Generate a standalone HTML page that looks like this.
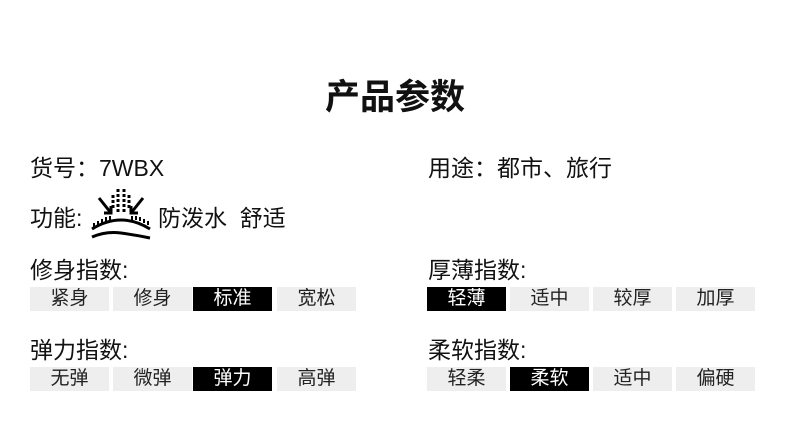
<!DOCTYPE html>
<html><head><meta charset="utf-8"><style>
body{margin:0;width:790px;height:440px;background:#fff;position:relative;overflow:hidden;font-family:"Liberation Sans","Noto Sans CJK SC",sans-serif;color:#111}
.t{position:absolute;white-space:nowrap}
.lbl{font-size:23px;line-height:26px}
.b{position:absolute;height:24px;width:79px;background:#eee;font-size:19px;line-height:24px;text-align:center;color:#222}
.b.k{background:#000;color:#fff}
</style></head><body>
<div class="t" style="left:0;width:790px;text-align:center;top:77px;font-size:35px;font-weight:bold;line-height:42px">产品参数</div>
<div class="t lbl" style="left:30px;top:155px">货号：7WBX</div>
<div class="t lbl" style="left:428px;top:155px">用途：都市、旅行</div>
<div class="t lbl" style="left:30px;top:205px">功能:</div>
<svg style="position:absolute;left:88px;top:186px" width="66" height="54" viewBox="0 0 66 54">
<g stroke="#000" stroke-width="3" fill="none">
<line x1="30" y1="3" x2="30" y2="28" stroke-dasharray="3,2"/>
<line x1="36" y1="3" x2="36" y2="28" stroke-dasharray="3,2"/>
<line x1="25" y1="9" x2="25" y2="24" stroke-dasharray="3,2"/>
<line x1="41" y1="9" x2="41" y2="24" stroke-dasharray="3,2"/>
<line x1="11" y1="12" x2="23" y2="27"/><polyline points="16,27 23,27 23,20"/>
<line x1="55" y1="12" x2="43" y2="27"/><polyline points="50,27 43,27 43,20"/>
<path d="M4 43 Q33 25 62 43"/>
<path d="M4 51 Q18 45 33 47 Q48 49 62 52"/>
<path d="M6 41 L6 37 M10 39 L10 35 M14 37 L14 33 M18 35 L18 31 M22 34 L22 30 M44 34 L44 30 M48 34 L48 30 M52 35 L52 31 M56 37 L56 33 M60 39 L60 35" stroke-width="2"/>
</g></svg>
<div class="t lbl" style="left:158px;top:205px">防泼水&nbsp;&nbsp;舒适</div>
<div class="t lbl" style="left:30px;top:257px">修身指数:</div>
<div class="t lbl" style="left:428px;top:257px">厚薄指数:</div>
<div class="b" style="left:30px;top:287px">紧身</div>
<div class="b" style="left:113px;top:287px">修身</div>
<div class="b k" style="left:193px;top:287px">标准</div>
<div class="b" style="left:277px;top:287px">宽松</div>
<div class="b k" style="left:427px;top:287px">轻薄</div>
<div class="b" style="left:510px;top:287px">适中</div>
<div class="b" style="left:593px;top:287px">较厚</div>
<div class="b" style="left:676px;top:287px">加厚</div>
<div class="t lbl" style="left:30px;top:337px">弹力指数:</div>
<div class="t lbl" style="left:428px;top:337px">柔软指数:</div>
<div class="b" style="left:30px;top:367px">无弹</div>
<div class="b" style="left:113px;top:367px">微弹</div>
<div class="b k" style="left:193px;top:367px">弹力</div>
<div class="b" style="left:277px;top:367px">高弹</div>
<div class="b" style="left:427px;top:367px">轻柔</div>
<div class="b k" style="left:510px;top:367px">柔软</div>
<div class="b" style="left:593px;top:367px">适中</div>
<div class="b" style="left:676px;top:367px">偏硬</div>
</body></html>
